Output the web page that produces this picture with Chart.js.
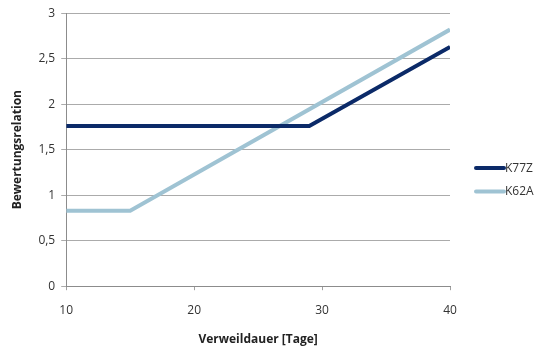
<!DOCTYPE html>
<html><head><meta charset="utf-8">
<script src="https://cdn.jsdelivr.net/npm/chart.js@4/dist/chart.umd.min.js"></script>
<style>html,body{margin:0;padding:0;background:#fff}#w{width:540px;height:349px}</style>
</head><body><div id="w"><canvas id="c"></canvas></div>
<script>
const seriesNames = ['K77Z', 'K62A'];
const daysK77Z = [10, 29, 40];
const valuesK77Z = [1.76, 1.76, 2.63];
const daysK62A = [10, 15, 40];
const valuesK62A = [0.83, 0.83, 2.82];
const xTicks = [10, 20, 30, 40];
const yTicks = [0, 0.5, 1, 1.5, 2, 2.5, 3];
const colors = ['#0B2A68', '#9FC3D3'];

const pts = (xs, ys) => xs.map((x, i) => ({x, y: ys[i]}));
const font = {family: "'Open Sans', 'Liberation Sans', sans-serif", size: 12};

const sideLegend = {
  id: 'sideLegend',
  afterDraw(chart) {
    const ctx = chart.ctx;
    const x0 = chart.chartArea.right + 26;
    const yc = 168;
    ctx.save();
    chart.data.datasets.forEach((d, i) => {
      const y = yc + i * 23.5;
      ctx.strokeStyle = d.borderColor;
      ctx.lineWidth = 4;
      ctx.lineCap = 'round';
      ctx.beginPath();
      ctx.moveTo(x0, y);
      ctx.lineTo(x0 + 28, y);
      ctx.stroke();
      ctx.fillStyle = '#333';
      ctx.font = `${font.size}px ${font.family}`;
      ctx.textBaseline = 'middle';
      ctx.textAlign = 'left';
      ctx.fillText(d.label, x0 + 29, y + 0.5);
    });
    ctx.restore();
  }
};

new Chart(document.getElementById('c'), {
  type: 'line',
  data: {
    datasets: [
      {label: seriesNames[0], data: pts(daysK77Z, valuesK77Z), borderColor: colors[0], backgroundColor: colors[0], borderWidth: 4, pointRadius: 0, tension: 0},
      {label: seriesNames[1], data: pts(daysK62A, valuesK62A), borderColor: colors[1], backgroundColor: colors[1], borderWidth: 4, pointRadius: 0, tension: 0}
    ]
  },
  plugins: [sideLegend],
  options: {
    responsive: true, maintainAspectRatio: false, animation: false,
    layout: {padding: {top: 8, right: 90, bottom: 2, left: 10}},
    plugins: {
      tooltip: {enabled: false},
      legend: {display: false}
    },
    scales: {
      x: {
        type: 'linear', min: 10, max: 40,
        afterBuildTicks: s => { s.ticks = xTicks.map(v => ({value: v})); },
        ticks: {color: '#333', font: font, padding: 13},
        grid: {drawOnChartArea: false, drawTicks: true, tickLength: 4, color: '#A0A0A0'},
        border: {color: '#8C8C8C'},
        title: {display: true, text: 'Verweildauer [Tage]', color: '#222', font: {...font, weight: 'bold'}, padding: {top: 2, bottom: 0}}
      },
      y: {
        min: 0, max: 3,
        afterBuildTicks: s => { s.ticks = yTicks.map(v => ({value: v})); },
        ticks: {color: '#333', font: font, padding: 6, callback: v => String(v).replace('.', ',')},
        grid: {color: '#ABABAB', tickLength: 5},
        border: {color: '#8C8C8C'},
        title: {display: true, text: 'Bewertungsrelation', color: '#222', font: {...font, weight: 'bold'}, padding: {top: 0, bottom: 8}}
      }
    }
  }
});
</script>
</body></html>
